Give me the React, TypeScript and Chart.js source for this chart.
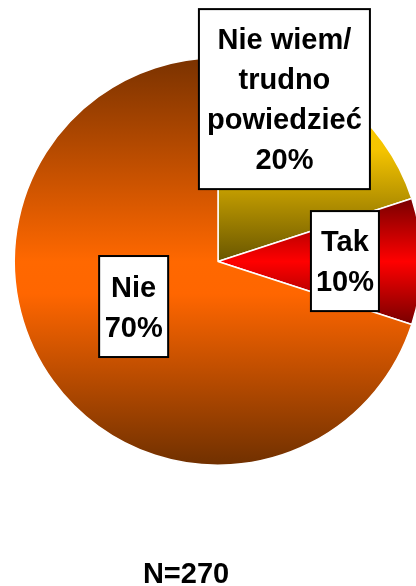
import React, { useEffect, useRef } from "react";
import { Chart, registerables } from "chart.js";

Chart.register(...registerables);

// ---- data ----
const categories = ["Nie wiem/ trudno powiedzieć", "Tak", "Nie"];
const categoryLines = [["Nie wiem/", "trudno", "powiedzieć"], ["Tak"], ["Nie"]];
const values = [20, 10, 70];
const sampleNote = "N=270";

// ---- styles ----
const gradientStops: [number, string][][] = [
  [[0, "#ffd200"], [0.45, "#f5c400"], [1, "#695600"]],
  [[0, "#780000"], [0.5, "#ff0000"], [1, "#780000"]],
  [[0, "#7a3200"], [0.5, "#ff6800"], [0.58, "#ff6600"], [1, "#703000"]],
];

// label box layout, relative to pie centre / radius
const labelBoxes = [
  { fx: 0.326, fy: -0.797, w: 171, h: 180 },
  { fx: 0.623, fy: -0.002, w: 68, h: 100 },
  { fx: -0.414, fy: 0.221, w: 69, h: 101 },
];
const FONT = 'bold 29px "Liberation Sans", Arial, sans-serif';
const LINE_H = 40;

function pieGeom(chart: any) {
  const a = chart.chartArea;
  const cx = (a.left + a.right) / 2;
  const cy = (a.top + a.bottom) / 2;
  const R = (Math.min(a.right - a.left, a.bottom - a.top) - 1.5) / 2;
  return { cx, cy, R };
}

function sliceYRange(i: number, cy: number, R: number) {
  const total = values.reduce((s, v) => s + v, 0);
  let start = 0;
  for (let k = 0; k < i; k++) start += values[k];
  const a0 = -Math.PI / 2 + (start / total) * Math.PI * 2;
  const a1 = a0 + (values[i] / total) * Math.PI * 2;
  let minY = cy, maxY = cy;
  for (let s = 0; s <= 200; s++) {
    const a = a0 + ((a1 - a0) * s) / 200;
    const y = cy + R * Math.sin(a);
    minY = Math.min(minY, y);
    maxY = Math.max(maxY, y);
  }
  return [minY, maxY];
}

const labelPlugin = {
  id: "boxLabels",
  afterDraw(chart: any) {
    const ctx = chart.ctx;
    const { cx, cy, R } = pieGeom(chart);
    ctx.save();
    ctx.font = FONT;
    ctx.textAlign = "center";
    ctx.textBaseline = "alphabetic";
    const capHalf = 29 * 0.716 / 2;
    labelBoxes.forEach((b, i) => {
      const bx = cx + b.fx * R;
      const by = cy + b.fy * R;
      ctx.fillStyle = "#ffffff";
      ctx.fillRect(bx - b.w / 2, by - b.h / 2, b.w, b.h);
      ctx.strokeStyle = "#000000";
      ctx.lineWidth = 2;
      ctx.strokeRect(bx - b.w / 2, by - b.h / 2, b.w, b.h);
      const lines = [...categoryLines[i], values[i] + "%"];
      const n = lines.length;
      ctx.fillStyle = "#000000";
      lines.forEach((t, k) => {
        const ly = by + (k - (n - 1) / 2) * LINE_H + capHalf;
        ctx.fillText(t, bx, ly);
      });
    });
    ctx.fillText(sampleNote, cx - 0.157 * R, cy + 1.576 * R);
    ctx.restore();
  },
};

export default function App() {
  const ref = useRef<HTMLCanvasElement | null>(null);
  useEffect(() => {
    if (!ref.current) return;
    const chart = new Chart(ref.current, {
      type: "pie",
      data: {
        labels: categories,
        datasets: [
          {
            data: values,
            backgroundColor: (c: any) => {
              const chart = c.chart;
              if (!chart.chartArea) return "#ff6600";
              const { cy, R } = pieGeom(chart);
              const i = c.dataIndex;
              const [y0, y1] = sliceYRange(i, cy, R);
              const g = chart.ctx.createLinearGradient(0, y0, 0, y1);
              gradientStops[i].forEach(([o, col]) => g.addColorStop(o, col));
              return g;
            },
            borderColor: "#ffffff",
            borderWidth: 1.5,
          },
        ],
      },
      options: {
        responsive: false,
        devicePixelRatio: 1,
        animation: false,
        layout: { padding: { top: 57, bottom: 120, left: 0, right: 0 } },
        plugins: {
          legend: { display: false },
          tooltip: { enabled: false },
          title: { display: false },
        },
      },
      plugins: [labelPlugin],
    });
    return () => chart.destroy();
  }, []);
  return (
    <div
      style={{
        position: "fixed",
        left: 0,
        top: 0,
        width: 416,
        height: 586,
        overflow: "hidden",
        background: "#ffffff",
      }}
    >
      <canvas
        ref={ref}
        width={436}
        height={586}
        style={{ display: "block", width: 436, height: 586 }}
      />
    </div>
  );
}
